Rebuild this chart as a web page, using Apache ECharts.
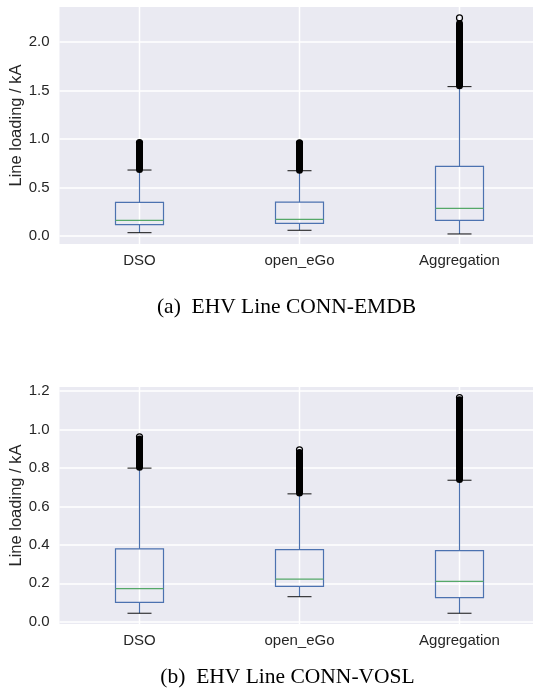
<!DOCTYPE html>
<html><head><meta charset="utf-8">
<script src="https://cdn.jsdelivr.net/npm/echarts@6/dist/echarts.min.js"></script>
<style>html,body{margin:0;padding:0;background:#fff;overflow:hidden}#c{width:533px;height:697px}</style>
</head><body><div id="c"></div>
<script>
const categories = ['DSO', 'open_eGo', 'Aggregation'];

// (a) EHV Line CONN-EMDB
const aWhiskerLow     = [0.034, 0.059, 0.021];
const aQ1             = [0.117, 0.131, 0.162];
const aMedian         = [0.162, 0.172, 0.285];
const aQ3             = [0.347, 0.350, 0.718];
const aWhiskerHigh    = [0.680, 0.673, 1.540];
const aFlierLow       = [0.685, 0.678, 1.548];
const aFlierDenseHigh = [0.955, 0.955, 2.190];
const aFlierMax       = [0.962, 0.960, 2.248];
const aYTicks = [0, 0.5, 1.0, 1.5, 2.0];
const aYRange = [-0.0825, 2.361];

// (b) EHV Line CONN-VOSL
const bWhiskerLow     = [0.044, 0.130, 0.044];
const bQ1             = [0.101, 0.184, 0.125];
const bMedian         = [0.172, 0.221, 0.210];
const bQ3             = [0.379, 0.375, 0.370];
const bWhiskerHigh    = [0.799, 0.665, 0.736];
const bFlierLow       = [0.803, 0.669, 0.740];
const bFlierDenseHigh = [0.950, 0.880, 1.155];
const bFlierMax       = [0.962, 0.894, 1.166];
const bYTicks = [0, 0.2, 0.4, 0.6, 0.8, 1.0, 1.2];
const bYRange = [-0.012, 1.221];

const captions = ['(a)  EHV Line CONN-EMDB', '(b)  EHV Line CONN-VOSL'];
const yAxisName = 'Line loading / kA';

const TXT = '#262626';
const SANS = '"Liberation Sans", Arial, sans-serif';
const SERIF = '"Liberation Serif", "Times New Roman", serif';

function rows(wl, q1, md, q3, wh, fl, fh, fm) {
  return categories.map((c, i) => [i, wl[i], q1[i], md[i], q3[i], wh[i], fl[i], fh[i], fm[i]]);
}

function makeRender(yRange) {
  return function (params, api) {
    const i = api.value(0);
    const band = api.size([1, 0])[0];
    const hb = band * 0.15, hc = band * 0.075;
    const P = v => api.coord([i, v]);
    const x = Math.round(P(0)[0] - 0.5) + 0.5;
    const yTop = P(yRange[1])[1], yBot = P(yRange[0])[1];
    const wl = P(api.value(1))[1], q1 = P(api.value(2))[1], md = P(api.value(3))[1],
          q3 = P(api.value(4))[1], wh = P(api.value(5))[1], fl = P(api.value(6))[1],
          fh = P(api.value(7))[1], fm = P(api.value(8))[1];
    const blue = '#4C72B0', green = '#55A868', k = '#000';
    const vbar = (y1, y2, color, w) => ({ type: 'rect', shape: { x: x - w / 2, y: Math.min(y1, y2), width: w, height: Math.abs(y2 - y1) }, style: { fill: color } });
    return {
      type: 'group', children: [
        vbar(yTop, yBot, '#fff', 1.5),
        vbar(wl, q1, blue, 1.2),
        vbar(q3, wh, blue, 1.2),
        { type: 'rect', shape: { x: x - hb, y: q3, width: 2 * hb, height: q1 - q3 }, style: { stroke: blue, fill: 'none', lineWidth: 1.2 } },
        { type: 'line', shape: { x1: x - hb, y1: md, x2: x + hb, y2: md }, style: { stroke: green, lineWidth: 1.2 } },
        { type: 'line', shape: { x1: x - hc, y1: wl, x2: x + hc, y2: wl }, style: { stroke: '#111', lineWidth: 1 } },
        { type: 'line', shape: { x1: x - hc, y1: wh, x2: x + hc, y2: wh }, style: { stroke: '#111', lineWidth: 1 } },
        { type: 'line', shape: { x1: x, y1: fl, x2: x, y2: fh }, style: { stroke: k, lineWidth: 7, lineCap: 'round' } },
        { type: 'circle', shape: { cx: x, cy: fm, r: 3 }, style: { stroke: k, fill: 'none', lineWidth: 1.2 } }
      ]
    };
  };
}

function xAx(g) {
  return {
    type: 'category', gridIndex: g, data: categories,
    axisLine: { show: false }, axisTick: { show: false }, splitLine: { show: false },
    axisLabel: { fontSize: 15, color: TXT, margin: 9, fontFamily: SANS }
  };
}
function yAx(g, range, ticks) {
  return {
    type: 'value', gridIndex: g, min: range[0], max: range[1],
    axisLine: { show: false },
    axisTick: { show: false, customValues: ticks },
    axisLabel: { customValues: ticks, formatter: v => v.toFixed(1), fontSize: 15, color: TXT, margin: 10, fontFamily: SANS },
    splitLine: { show: true, lineStyle: { color: '#fff', width: 1.5 } },
    name: yAxisName, nameLocation: 'middle', nameGap: 35, nameMoveOverlap: false,
    nameTextStyle: { fontSize: 16.5, color: TXT, fontFamily: SANS }
  };
}

const chart = echarts.init(document.getElementById('c'), null, { renderer: 'canvas' });
chart.setOption({
  animation: false,
  backgroundColor: '#fff',
  grid: [
    { left: 59.5, top: 7, width: 480, height: 237, show: true, backgroundColor: '#EAEAF2', borderWidth: 0, containLabel: false, outerBoundsMode: 'none' },
    { left: 59.5, top: 387, width: 480, height: 237, show: true, backgroundColor: '#EAEAF2', borderWidth: 0, containLabel: false, outerBoundsMode: 'none' }
  ],
  xAxis: [xAx(0), xAx(1)],
  yAxis: [yAx(0, aYRange, aYTicks), yAx(1, bYRange, bYTicks)],
  series: [
    {
      type: 'custom', xAxisIndex: 0, yAxisIndex: 0, silent: true,
      data: rows(aWhiskerLow, aQ1, aMedian, aQ3, aWhiskerHigh, aFlierLow, aFlierDenseHigh, aFlierMax),
      encode: { x: 0, y: [1, 2, 3, 4, 5, 6, 7, 8] },
      renderItem: makeRender(aYRange)
    },
    {
      type: 'custom', xAxisIndex: 1, yAxisIndex: 1, silent: true,
      data: rows(bWhiskerLow, bQ1, bMedian, bQ3, bWhiskerHigh, bFlierLow, bFlierDenseHigh, bFlierMax),
      encode: { x: 0, y: [1, 2, 3, 4, 5, 6, 7, 8] },
      renderItem: makeRender(bYRange)
    }
  ],
  graphic: [
    { type: 'text', x: 286.5, y: 307, style: { text: captions[0], font: '21.5px ' + SERIF, fill: '#000', align: 'center', verticalAlign: 'middle' } },
    { type: 'text', x: 287.5, y: 677, style: { text: captions[1], font: '21.5px ' + SERIF, fill: '#000', align: 'center', verticalAlign: 'middle' } }
  ]
});
</script>
</body></html>
